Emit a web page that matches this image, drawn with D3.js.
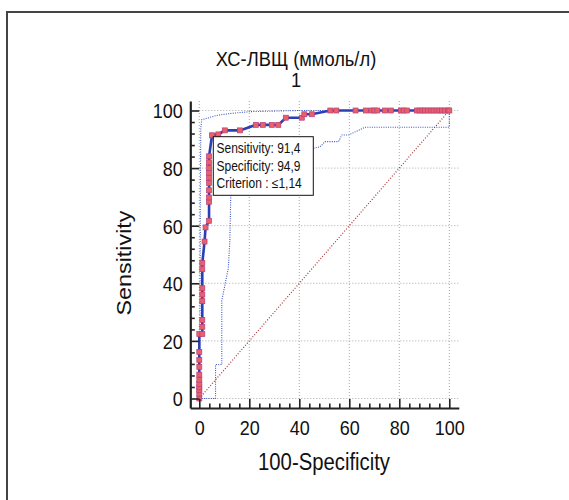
<!DOCTYPE html>
<html>
<head>
<meta charset="utf-8">
<script src="https://cdn.jsdelivr.net/npm/d3@7"></script>
<style>
  html, body { margin: 0; padding: 0; background: #fff; }
  svg { display: block; font-family: "Liberation Sans", Arial, sans-serif; }
</style>
</head>
<body>
<svg id="chart" width="569" height="500"></svg>
<script>
// ROC curve points (100-Specificity, Sensitivity)
const rocFpr = [0, 0, 0, 0, 0, 0, 0, 0, 0, 0, 0,
  1.2, 1.2, 1.2, 1.2, 1.2, 1.2, 1.2, 1.2,
  2.1, 2.5, 3.9, 3.9, 3.9, 3.9, 3.9, 3.9, 3.9, 3.9, 3.9, 3.9,
  5.1, 7.6, 10.2, 16.3, 22.6, 25.4, 29.0, 31.6, 34.6, 41.0, 42.0, 45.0,
  52.4, 54.8, 62.5, 66.6, 68.8, 70.0, 71.2, 74.3, 76.6, 80.6, 81.7, 83.0,
  87.0, 88.1, 89.2, 90.3, 91.5, 92.6, 93.7, 94.9, 96.0, 97.1, 98.3, 99.4, 100];
const rocTpr = [0, 1.7, 2.9, 3.9, 5.0, 6.5, 8.3, 11.0, 13.4, 16.2, 22.4,
  22.4, 24.9, 27.3, 33.8, 36.1, 38.3, 44.9, 47.0,
  54.5, 59.4, 61.7, 68.3, 69.8, 72.3, 74.8, 76.7, 78.4, 80.0, 82.0, 84.1,
  91.4, 91.7, 93.1, 93.1, 95.0, 95.0, 95.0, 95.0, 97.5, 97.5, 98.7, 98.7,
  100, 100, 100, 100, 100, 100, 100, 100, 100, 100, 100, 100,
  100, 100, 100, 100, 100, 100, 100, 100, 100, 100, 100, 100, 100];

// confidence bounds
const upperFpr = [0, 0.3, 0.4, 0.6, 1.0, 3.4, 7.5, 12.8, 20.2, 40, 100];
const upperTpr = [0, 30, 70, 94, 96.8, 97.4, 98.4, 99.0, 99.6, 100, 100];
const lowerFpr = [0, 6.5, 6.5, 9.0, 9.0, 11.6, 12.2, 12.6, 12.8, 30, 48.3, 50.3, 55.7, 57.0, 59.7, 66.3, 100, 100];
const lowerTpr = [0, 0, 11.8, 11.8, 34.0, 45.2, 54.4, 70.7, 77.6, 84, 87.4, 89.2, 89.2, 91.5, 91.5, 94.2, 94.2, 100];

const majorTicks = [0, 20, 40, 60, 80, 100];
const minorTicks = d3.range(0, 101, 4).filter(d => d % 20 !== 0);

const titleLines = ['ХС-ЛВЩ (ммоль/л)', '1'];
const xLabel = '100-Specificity';
const yLabel = 'Sensitivity';
const cutoff = { sensitivity: 91.4, specificity: 94.9, criterion: '≤1,14' };

const svg = d3.select('#chart');
const stretch = 1.15;   // text looks taller than wide in the original
const fmt = d3.format('.1f');
const comma = v => fmt(v).replace('.', ',');

const x = d3.scaleLinear().domain([-3.6, 103.8]).range([190.3, 458.8]);
const y = d3.scaleLinear().domain([-3.3, 103.3]).range([408, 101]);

function label(g, txt, tx, ty, size, anchor, rot) {
    // rotated text gets its stretch along the reading direction
    const sc = rot ? `scale(${stretch},1)` : `scale(1,${stretch})`;
    return g.append('text')
        .attr('transform', `translate(${tx},${ty})` + (rot ? ` rotate(${rot})` : '') + ' ' + sc)
        .attr('text-anchor', anchor || 'middle')
        .attr('font-size', size)
        .attr('fill', '#111')
        .text(txt);
}

// outer frame (only left/top fall inside the picture)
svg.append('rect')
    .attr('x', 7).attr('y', 12).attr('width', 700).attr('height', 700)
    .attr('fill', 'none').attr('stroke', '#444').attr('stroke-width', 2);

// grid
const grid = svg.append('g').attr('stroke', '#a8a8a8').attr('stroke-width', 1).attr('stroke-dasharray', '1,2');
grid.selectAll('.gx').data(majorTicks).enter().append('line')
    .attr('x1', d => x(d)).attr('x2', d => x(d))
    .attr('y1', y.range()[1]).attr('y2', y.range()[0]);
grid.selectAll('.gy').data(majorTicks).enter().append('line')
    .attr('y1', d => y(d)).attr('y2', d => y(d))
    .attr('x1', x.range()[0]).attr('x2', x.range()[1]);

// diagonal reference
svg.append('line')
    .attr('x1', x(0)).attr('y1', y(0)).attr('x2', x(100)).attr('y2', y(100))
    .attr('stroke', '#a83434').attr('stroke-width', 1.2).attr('stroke-dasharray', '1,1.8');

const line = d3.line().x(d => x(d[0])).y(d => y(d[1]));

// confidence bounds
[[upperFpr, upperTpr], [lowerFpr, lowerTpr]].forEach(([fx, ty]) => {
    svg.append('path')
        .datum(fx.map((v, i) => [v, ty[i]]))
        .attr('d', line)
        .attr('fill', 'none')
        .attr('stroke', '#3a55c8')
        .attr('stroke-width', 1.1)
        .attr('stroke-dasharray', '1,1.3');
});

// roc curve
const roc = rocFpr.map((v, i) => [v, rocTpr[i]]);
svg.append('path')
    .datum(roc)
    .attr('d', line)
    .attr('fill', 'none')
    .attr('stroke', '#2b3fb4')
    .attr('stroke-width', 2.6);

svg.selectAll('rect.pt')
    .data(roc)
    .enter()
    .append('rect')
    .attr('class', 'pt')
    .attr('x', d => x(d[0]) - 2.5)
    .attr('y', d => y(d[1]) - 2.5)
    .attr('width', 5)
    .attr('height', 5)
    .attr('fill', '#e8606a')
    .attr('stroke', '#b8407a')
    .attr('stroke-width', 0.7);

// axes
const xAxis = svg.append('g').attr('transform', 'translate(0,408)')
    .call(d3.axisBottom(x).tickValues(majorTicks).tickSize(-9).tickSizeOuter(0));
svg.append('g').attr('transform', 'translate(0,408)')
    .call(d3.axisBottom(x).tickValues(minorTicks).tickSize(-4.5).tickSizeOuter(0).tickFormat(''))
    .call(g => g.select('.domain').remove());
const yAxis = svg.append('g').attr('transform', 'translate(190.3,0)')
    .call(d3.axisLeft(y).tickValues(majorTicks).tickSize(-9).tickSizeOuter(0));
svg.append('g').attr('transform', 'translate(190.3,0)')
    .call(d3.axisLeft(y).tickValues(minorTicks).tickSize(-4.5).tickSizeOuter(0).tickFormat(''))
    .call(g => g.select('.domain').remove());

svg.selectAll('.domain').attr('stroke', '#222').attr('stroke-width', 2.2);
svg.selectAll('.tick line').attr('stroke', '#222').attr('stroke-width', 1.6);

xAxis.selectAll('.tick text')
    .attr('y', 0).attr('dy', null)
    .attr('transform', `translate(0,27) scale(1,${stretch})`)
    .attr('font-size', 18).attr('font-family', null).attr('fill', '#111');
yAxis.selectAll('.tick text')
    .attr('x', 0).attr('dy', null)
    .attr('transform', `translate(-7.5,7.4) scale(1,${stretch})`)
    .attr('font-size', 18).attr('font-family', null).attr('fill', '#111');

// titles
label(svg, titleLines[0], 296, 66, 18.3);
label(svg, titleLines[1], 296, 87.3, 18.3);
label(svg, xLabel, 324, 470, 20.3);
label(svg, yLabel, 131, 263, 20.3, 'middle', -90);

// cutoff box
const box = svg.append('g');
box.append('rect')
    .attr('x', 213.3).attr('y', 136.7).attr('width', 100).attr('height', 58.6)
    .attr('fill', '#fff').attr('stroke', '#111').attr('stroke-width', 1);
label(box, 'Sensitivity: ' + comma(cutoff.sensitivity), 216.5, 153, 12, 'start');
label(box, 'Specificity: ' + comma(cutoff.specificity), 216.5, 170.5, 12, 'start');
label(box, 'Criterion : ' + cutoff.criterion, 216.5, 187.5, 12, 'start');
</script>
</body>
</html>
